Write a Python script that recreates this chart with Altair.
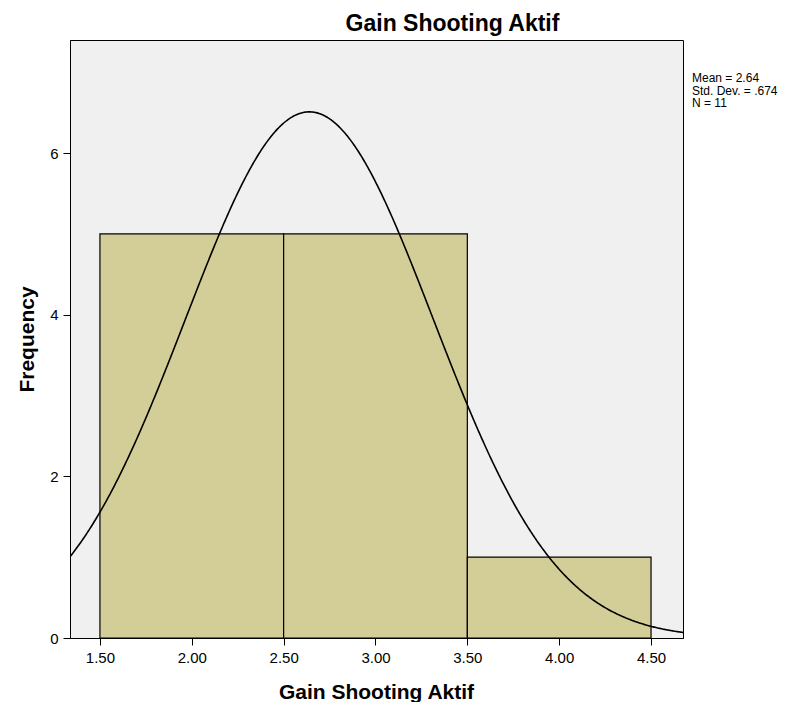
import altair as alt
import pandas as pd

# Histogram bins and counts
bin_start = [1.5, 2.5, 3.5]
bin_end = [2.5, 3.5, 4.5]
counts = [5, 5, 1]

# Summary statistics shown on the chart
mean_val = 2.64
sd_val = 0.674
n_val = 11
bin_width = 1.0

x_ticks = [1.5, 2.0, 2.5, 3.0, 3.5, 4.0, 4.5]
y_ticks = [0, 2, 4, 6]
x_domain = [1.337, 4.674]
y_domain = [0, 7.4]

FONT = "Arial, Liberation Sans, sans-serif"

bars_df = pd.DataFrame({"start": bin_start, "end": bin_end, "count": counts})

x_scale = alt.Scale(domain=x_domain, nice=False, zero=False)
y_scale = alt.Scale(domain=y_domain, nice=False)

x_axis = alt.Axis(values=x_ticks, format=".2f", title="Gain Shooting Aktif",
                  grid=False, tickSize=7, labelPadding=5, labelFontSize=15,
                  labelFont=FONT, labelColor="#000", domainColor="#000", tickColor="#000",
                  titleFont=FONT, titleFontSize=21, titleFontWeight="bold", titleColor="#000",
                  titleX=306, titleY=54, titleBaseline="middle", titleAlign="center")
y_axis = alt.Axis(values=y_ticks, format="d", title="Frequency",
                  grid=False, tickSize=7, labelPadding=5, labelFontSize=15,
                  labelFont=FONT, labelColor="#000", domainColor="#000", tickColor="#000",
                  titleFont=FONT, titleFontSize=21, titleFontWeight="bold", titleColor="#000",
                  titleX=-43, titleY=299, titleAngle=-90, titleBaseline="middle", titleAlign="center")

bars = alt.Chart(bars_df).mark_rect(fill="#D3CE97", stroke="#000", strokeWidth=1.2).encode(
    x=alt.X("start:Q", scale=x_scale, axis=x_axis),
    x2="end:Q",
    y=alt.Y("count:Q", scale=y_scale, axis=y_axis),
    y2=alt.datum(0),
)

curve = alt.Chart(alt.sequence(start=x_domain[0], stop=x_domain[1] + 0.005, step=0.005, as_="xv")).transform_calculate(
    dens=f"{n_val}*{bin_width}/({sd_val}*sqrt(2*PI))*exp(-0.5*pow((datum.xv-{mean_val})/{sd_val},2))"
).mark_line(color="#000", strokeWidth=1.6, clip=True).encode(
    x=alt.X("xv:Q", scale=x_scale),
    y=alt.Y("dens:Q", scale=y_scale),
)

stats_df = pd.DataFrame({"label": [f"Mean = {mean_val}\nStd. Dev. = .674\nN = {n_val}"]})
stats = alt.Chart(stats_df).mark_text(
    align="left", baseline="top", lineBreak="\n", font=FONT, fontSize=12,
    color="#000", lineHeight=12.5
).encode(text="label:N", x=alt.value(622), y=alt.value(33))

chart = alt.layer(bars, curve, stats).properties(
    width=613, height=598,
    title=alt.TitleParams("Gain Shooting Aktif", font=FONT, fontSize=23, fontWeight="bold",
                          color="#000", anchor="middle", dx=76, offset=4, frame="group"),
    autosize=alt.AutoSizeParams(type="none"),
    padding={"left": 62, "top": 32, "right": 120, "bottom": 64},
).configure_view(fill="#F0F0F0", stroke="#000", strokeWidth=1)

chart.save("out.html", embed_options={"renderer": "svg", "actions": False})
